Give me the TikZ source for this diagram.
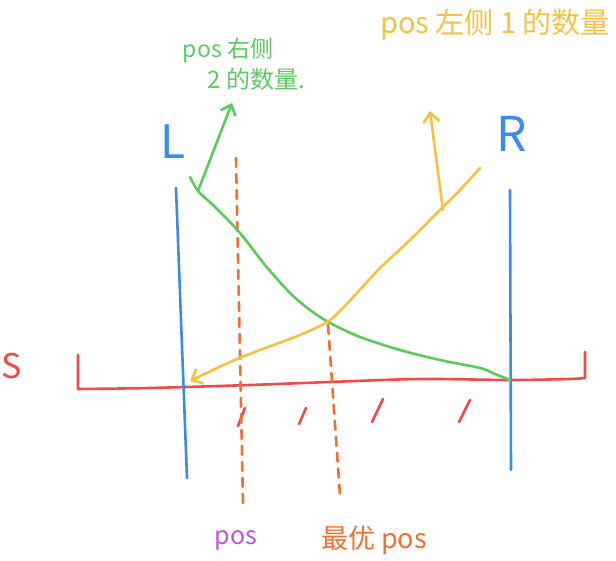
\documentclass[tikz,border=0pt]{standalone}
\usepackage{fontspec}
\setmainfont{Noto Sans}
\newfontfamily\cjk{Noto Sans CJK SC}
\usetikzlibrary{arrows.meta}
\definecolor{cred}{HTML}{F04A4A}
\definecolor{cblue}{HTML}{3C8CE6}
\definecolor{cgreen}{HTML}{5CCB5F}
\definecolor{cyellow}{HTML}{F5C242}
\definecolor{corange}{HTML}{F07030}
\definecolor{cpurple}{HTML}{C050E0}
\begin{document}
\begin{tikzpicture}[x=1pt,y=-1pt,line cap=round,line join=round,
  pen/.style={line width=2.6pt},
  dashpen/.style={line width=2.6pt,dash pattern=on 9pt off 7pt},
  tip/.style={-{Straight Barb[length=9pt,width=16pt,line width=2.6pt]}},
  lbl/.style={font=\cjk\fontsize{#1}{#1}\selectfont,inner sep=0pt,align=left},
  big/.style={font=\cjk\fontsize{#1}{#1}\selectfont,inner sep=0pt}]
\useasboundingbox (0,0) rectangle (616,561);
\fill[white] (0,0) rectangle (616,561);
% labels
\node[big=34,text=cred] (S) at (12,366) {S};
\node[big=46,text=cblue] (L) at (173,142) {L};
\node[big=48,text=cblue] (R) at (512,134) {R};
\node[lbl=25,text=cpurple] (pos) at (236,540) {pos};
\node[lbl=27,text=corange] (best) at (374,540) {最优 pos};
\node[lbl=23,text=cgreen] (gtxt1) at (228,50) {pos 右侧};
\node[lbl=24,text=cgreen] (gtxt2) at (256,79) {2 的数量.};
\node[lbl=29,text=cyellow] (ytxt) at (495,25) {pos 左侧 1 的数量};
% axis S
\draw[pen,cred] (78,355) -- (78,389)
  plot[smooth] coordinates {(78,389) (150,388) (250,385) (330,382) (420,379) (510,380) (570,379) (585,378)}
  -- (585,352);
\draw[pen,cred] (245,408) -- (238,426);
\draw[pen,cred] (306,408) -- (299,424);
\draw[pen,cred] (383,399) -- (372,422);
\draw[pen,cred] (470,400) -- (459,422);
% L and R
\coordinate (Lt) at (176,188); \coordinate (Lb) at (187,478);
\coordinate (Rt) at (510,190); \coordinate (Rb) at (511,470);
\draw[pen,cblue] (Lt) -- (Lb);
\draw[pen,cblue] (Rt) -- (Rb);
% dashed lines
\coordinate (p1) at (236,158); \coordinate (p2) at (243,505);
\coordinate (b1) at (328,325); \coordinate (b2) at (340,495);
\draw[dashpen,corange] (p1) -- (p2);
\draw[dashpen,corange] (b1) -- (b2);
% green curve
\draw[pen,cgreen] plot[smooth] coordinates {(190,177) (198,191) (215,207) (240,233) (265,265) (290,293) (310,310) (330,323) (360,337) (400,350) (440,360) (480,368) (495,374) (510,380)};
\coordinate (ga) at (198,191); \coordinate (gb) at (232,103);
\draw[pen,cgreen,tip] (ga) -- (gb);
% yellow curve
\draw[pen,cyellow,tip] plot[smooth] coordinates {(480,168) (460,190) (440,210) (410,240) (380,268) (355,295) (330,320) (300,335) (260,350) (230,362) (190,381)};
\coordinate (ya) at (443,210); \coordinate (yb) at (430,111);
\draw[pen,cyellow,tip] (ya) -- (yb);
\end{tikzpicture}
\end{document}
